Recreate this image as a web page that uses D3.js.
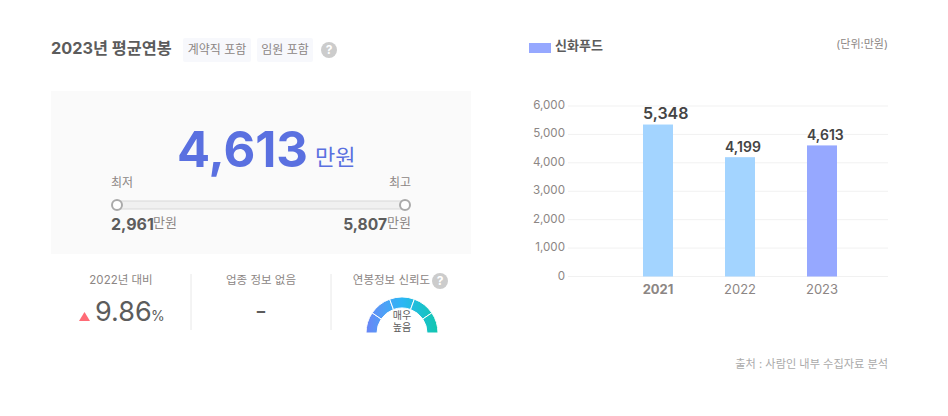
<!DOCTYPE html>
<html>
<head>
<meta charset="utf-8">
<script src="https://cdn.jsdelivr.net/npm/d3@7"></script>
<style>
  html, body { margin: 0; padding: 0; background: #fff; overflow: hidden; }
  svg { display: block; }
  text { font-family: Inter, "Noto Sans CJK KR", sans-serif; }
</style>
</head>
<body>
<script>
const years = ['2021', '2022', '2023'];
const salaries = [5348, 4199, 4613];
const yTicks = [0, 1000, 2000, 3000, 4000, 5000, 6000];
const rangeLabels = ['최저', '최고'];
const rangeValues = [2961, 5807];
const tags = ['계약직 포함', '임원 포함'];
const gaugeStops = [-90, -56, -20, 20, 56, 90];
const gaugeColors = ['#6a85f6', '#4fa0f6', '#2bb6f5', '#1cc0d2', '#12c6ae'];

const COLORS = {
  DARK: '#5c5c5c',
  TEXT: '#8c8684',
  BLUE: '#5a70e0',
  BAR: '#a3d4ff',
  BAR_HI: '#96a8ff',
  GRID: '#f1f1f1'
};

const fmt = d3.format(',');
const svg = d3.select('body').append('svg').attr('width', 948).attr('height', 416);

const label = (x, y, str, size, fill, opts = {}) => svg.append('text')
  .attr('x', x)
  .attr('y', y)
  .attr('font-size', size)
  .attr('fill', fill)
  .attr('font-weight', opts.weight || 400)
  .attr('text-anchor', opts.anchor || 'start')
  .text(str);

const helpIcon = (x, y) => {
  svg.append('circle').attr('cx', x).attr('cy', y).attr('r', 8).attr('fill', '#ccc');
  label(x, y + 4, '?', 12, '#fff', {anchor: 'middle', weight: 700});
};

// header
label(51, 53.5, '2023년 평균연봉', 16.3, COLORS.DARK, {weight: 700});
const tagBoxes = [[183, 68], [257, 56]];
tags.forEach((t, i) => {
  svg.append('rect')
    .attr('x', tagBoxes[i][0]).attr('y', 38)
    .attr('width', tagBoxes[i][1]).attr('height', 24)
    .attr('rx', 2).attr('fill', '#f7f8fc');
  label(tagBoxes[i][0] + tagBoxes[i][1] / 2, 54, t, 12, COLORS.TEXT, {anchor: 'middle'});
});
helpIcon(329, 50);

// panel
svg.append('rect').attr('x', 51).attr('y', 91).attr('width', 420).attr('height', 163).attr('fill', '#fafafa');
label(177, 167, fmt(salaries[2]), 49, COLORS.BLUE, {weight: 700});
label(315, 165, '만원', 22, COLORS.BLUE);

const rangeX = d3.scaleLinear().domain(rangeValues).range([117, 405]);
label(111, 187, rangeLabels[0], 12, COLORS.TEXT);
label(411, 187, rangeLabels[1], 12, COLORS.TEXT, {anchor: 'end'});
svg.append('rect')
  .attr('x', rangeX(rangeValues[0])).attr('y', 201)
  .attr('width', rangeX(rangeValues[1]) - rangeX(rangeValues[0])).attr('height', 8)
  .attr('fill', '#f0f0f0').attr('stroke', '#d8d8d8');
svg.selectAll('circle.handle')
  .data(rangeValues)
  .join('circle')
    .attr('class', 'handle')
    .attr('cx', d => rangeX(d))
    .attr('cy', 205)
    .attr('r', 5)
    .attr('fill', '#fff')
    .attr('stroke', '#aaa')
    .attr('stroke-width', 2);

label(111, 230, fmt(rangeValues[0]), 16, COLORS.DARK, {weight: 700});
label(153, 227, '만원', 13, COLORS.TEXT);
label(387, 230, fmt(rangeValues[1]), 15.6, COLORS.DARK, {weight: 700, anchor: 'end'});
label(411, 227, '만원', 13, COLORS.TEXT, {anchor: 'end'});

// bottom row
label(121, 284, '2022년 대비', 11.5, COLORS.TEXT, {anchor: 'middle'});
svg.append('path').attr('d', 'M79 321 L90 321 L84.5 312 Z').attr('fill', '#ff6b76');
label(95, 321, '9.86', 27, COLORS.DARK);
label(151, 321, '%', 14, COLORS.DARK);

[191, 331].forEach(x => svg.append('line')
  .attr('x1', x).attr('x2', x).attr('y1', 274).attr('y2', 330)
  .attr('stroke', '#e8e8e8'));

label(261, 284, '업종 정보 없음', 11.5, COLORS.TEXT, {anchor: 'middle'});
label(261, 320, '-', 26, COLORS.DARK, {anchor: 'middle'});

label(391.5, 284, '연봉정보 신뢰도', 11.5, COLORS.TEXT, {anchor: 'middle'});
helpIcon(440, 281);

// gauge, gradient coords are relative to the translated group
const grad = svg.append('defs').append('linearGradient')
  .attr('id', 'gaugeGrad')
  .attr('gradientUnits', 'userSpaceOnUse')
  .attr('x1', -36).attr('x2', 36).attr('y1', 0).attr('y2', 0);
gaugeColors.forEach((c, i) => grad.append('stop')
  .attr('offset', i / (gaugeColors.length - 1))
  .attr('stop-color', c));

const gaugeArc = d3.arc().innerRadius(25).outerRadius(36);
const rad = d => d * Math.PI / 180;
svg.append('g')
  .attr('transform', 'translate(402,333)')
  .selectAll('path')
  .data(d3.pairs(gaugeStops))
  .join('path')
    .attr('d', d => gaugeArc({startAngle: rad(d[0]), endAngle: rad(d[1])}))
    .attr('fill', 'url(#gaugeGrad)')
    .attr('stroke', '#fff')
    .attr('stroke-width', 1);
label(402, 319, '매우', 10, COLORS.DARK, {anchor: 'middle'});
label(402, 331, '높음', 10, COLORS.DARK, {anchor: 'middle'});

// legend
svg.append('rect').attr('x', 529).attr('y', 43).attr('width', 22).attr('height', 10).attr('fill', COLORS.BAR_HI);
label(555, 50, '신화푸드', 13, COLORS.DARK, {weight: 700});
label(888, 48, '(단위:만원)', 11, COLORS.TEXT, {anchor: 'end'});

// bar chart
const x = d3.scaleBand().domain(years).range([617, 863]);
const y = d3.scaleLinear().domain([0, 6000]).range([276.5, 106]);
const barWidth = 30;
const barLeft = year => x(year) + x.bandwidth() / 2 - barWidth / 2;

svg.append('g')
  .selectAll('line')
  .data(yTicks)
  .join('line')
    .attr('x1', 568).attr('x2', 888)
    .attr('y1', d => y(d)).attr('y2', d => y(d))
    .attr('stroke', COLORS.GRID);

svg.append('g')
  .selectAll('text')
  .data(yTicks)
  .join('text')
    .attr('x', 565)
    .attr('y', d => y(d) + 3)
    .attr('text-anchor', 'end')
    .attr('font-size', 11.6)
    .attr('fill', COLORS.TEXT)
    .text(fmt);

svg.append('g')
  .selectAll('rect')
  .data(salaries)
  .join('rect')
    .attr('x', (d, i) => barLeft(years[i]))
    .attr('y', d => y(d))
    .attr('width', barWidth)
    .attr('height', d => y(0) - y(d))
    .attr('fill', (d, i) => i === 2 ? COLORS.BAR_HI : COLORS.BAR);

svg.append('g')
  .selectAll('text')
  .data(salaries)
  .join('text')
    .attr('x', (d, i) => barLeft(years[i]))
    .attr('y', d => y(d) - 5.5)
    .attr('font-size', (d, i) => i === 0 ? 16 : 14)
    .attr('font-weight', 600)
    .attr('fill', '#444')
    .text(fmt);

svg.append('g')
  .selectAll('text')
  .data(years)
  .join('text')
    .attr('x', d => x(d) + x.bandwidth() / 2)
    .attr('y', 294)
    .attr('text-anchor', 'middle')
    .attr('font-size', 13)
    .attr('font-weight', (d, i) => i === 0 ? 700 : 400)
    .attr('fill', COLORS.TEXT)
    .text(d => d);

label(888, 368, '출처 : 사람인 내부 수집자료 분석', 11.2, '#aaa', {anchor: 'end'});
</script>
</body>
</html>
